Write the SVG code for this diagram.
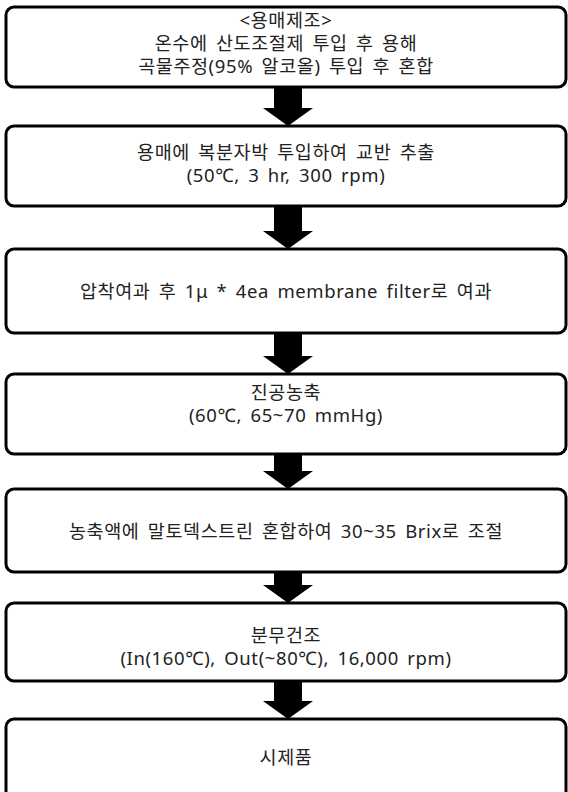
<svg xmlns="http://www.w3.org/2000/svg" width="568" height="792" viewBox="0 0 568 792">
<style>
.box{fill:#fff;stroke:#000;stroke-width:3}
.t{font-family:'Noto Sans','Noto Sans CJK KR',sans-serif;font-size:18.5px;letter-spacing:0.6px;word-spacing:3px;fill:#222;text-anchor:middle}
.arr{fill:#000}
</style>
<rect width="568" height="792" fill="#fff"/>
<g id="connectors">
<path class="arr" d="M274,87 H302 V108 H313 L288,126 L263,108 H274 Z"/>
<path class="arr" d="M274,206 H302 V231 H313 L288,249 L263,231 H274 Z"/>
<path class="arr" d="M274,333 H302 V356 H313 L288,374 L263,356 H274 Z"/>
<path class="arr" d="M274,454 H302 V471 H313 L288,489 L263,471 H274 Z"/>
<path class="arr" d="M274,572 H302 V585 H313 L288,603 L263,585 H274 Z"/>
<path class="arr" d="M274,681 H302 V701 H313 L288,719 L263,701 H274 Z"/>
</g>
<g id="n1"><rect class="box" x="6" y="7" width="560" height="80" rx="8"/>
<text class="t" x="286" y="27">&lt;용매제조&gt;</text>
<text class="t" x="286" y="50">온수에 산도조절제 투입 후 용해</text>
<text class="t" x="286" y="73">곡물주정(95% 알코올) 투입 후 혼합</text></g>
<g id="n2"><rect class="box" x="6" y="126" width="560" height="80" rx="8"/>
<text class="t" x="286" y="159">용매에 복분자박 투입하여 교반 추출</text>
<text class="t" x="286" y="182">(50℃, 3 hr, 300 rpm)</text></g>
<g id="n3"><rect class="box" x="6" y="249" width="560" height="84" rx="8"/>
<text class="t" x="286" y="298">압착여과 후 1μ * 4ea membrane filter로 여과</text></g>
<g id="n4"><rect class="box" x="6" y="374" width="560" height="80" rx="8"/>
<text class="t" x="286" y="399">진공농축</text>
<text class="t" x="286" y="422">(60℃, 65~70 mmHg)</text></g>
<g id="n5"><rect class="box" x="6" y="489" width="560" height="83" rx="8"/>
<text class="t" x="286" y="538">농축액에 말토덱스트린 혼합하여 30~35 Brix로 조절</text></g>
<g id="n6"><rect class="box" x="6" y="603" width="560" height="78" rx="8"/>
<text class="t" x="286" y="642">분무건조</text>
<text class="t" x="286" y="665">(In(160℃), Out(~80℃), 16,000 rpm)</text></g>
<g id="n7"><rect class="box" x="6" y="719" width="560" height="90" rx="8"/>
<text class="t" x="286" y="764">시제품</text></g>
</svg>
